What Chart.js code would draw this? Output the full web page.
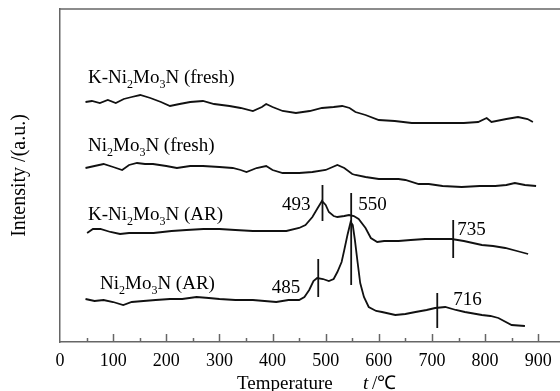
<!DOCTYPE html>
<html>
<head>
<meta charset="utf-8">
<script src="https://cdn.jsdelivr.net/npm/chart.js@4.4.0/dist/chart.umd.min.js"></script>
<style>
html, body { margin: 0; padding: 0; background: #fff; }
canvas { display: block; }
</style>
</head>
<body>
<canvas id="tpdChart" width="560" height="391"></canvas>
<script>
// temperatures in °C, intensities in arbitrary units (curves are offset vertically)
const kFreshT = [48, 60, 75, 90, 105, 120, 135, 151, 170, 190, 207, 225, 245, 269, 290, 319, 340, 363, 380, 388, 400, 419, 444, 470, 493, 515, 531, 545, 556, 575, 600, 630, 662, 700, 725, 760, 787, 803, 812, 840, 862, 880, 890];
const kFreshI = [240, 241, 239, 242, 239, 243, 245, 247, 244, 240, 236, 238, 240, 241, 238, 236, 234, 231, 235, 238, 235, 231, 229, 231, 234, 235, 236, 234, 230, 227, 222, 221, 219, 219, 219, 219, 220, 224, 220, 223, 225, 223, 220];

const niFreshT = [48, 65, 82, 100, 117, 130, 145, 160, 175, 200, 220, 245, 269, 300, 325, 340, 351, 370, 388, 400, 419, 450, 475, 500, 522, 535, 550, 556, 575, 600, 637, 650, 675, 694, 720, 756, 790, 819, 840, 856, 875, 896];
const niFreshI = [174, 176, 178, 175, 172, 177, 179, 178, 178, 176, 174, 176, 176, 175, 174, 172, 170, 174, 176, 172, 169, 169, 170, 172, 177, 174, 168, 167, 165, 163, 163, 162, 158, 158, 156, 155, 156, 156, 157, 159, 157, 156];

const kArT = [51, 62, 76, 95, 113, 130, 145, 176, 210, 238, 270, 300, 330, 363, 400, 426, 450, 462, 475, 485, 493, 500, 506, 515, 522, 535, 544, 553, 562, 575, 585, 597, 610, 637, 660, 687, 710, 737, 760, 794, 815, 838, 860, 881];
const kArI = [109, 113, 113, 110, 108, 109, 109, 109, 111, 112, 113, 113, 112, 111, 111, 111, 114, 117, 125, 134, 141, 137, 130, 126, 125, 126, 127, 126, 123, 114, 104, 100, 101, 101, 102, 103, 103, 103, 101, 97, 96, 94, 91, 88];

const niArT = [48, 65, 82, 100, 119, 135, 157, 180, 207, 230, 257, 280, 300, 330, 363, 385, 407, 430, 450, 460, 469, 477, 484, 495, 506, 515, 522, 530, 535, 541, 547, 551, 555, 560, 565, 572, 581, 595, 606, 631, 650, 669, 690, 706, 725, 745, 762, 794, 810, 825, 850, 875];
const niArI = [43, 41, 42, 40, 37, 40, 41, 42, 43, 43, 45, 44, 43, 42, 42, 41, 40, 42, 42, 45, 52, 61, 64, 63, 61, 63, 70, 80, 92, 107, 120, 117, 102, 80, 59, 45, 35, 31, 30, 27, 28, 30, 32, 34, 35, 32, 30, 27, 26, 24, 17, 16];

// peak markers: vertical bars
const markerT = [494, 548, 740, 486, 548, 710];
const markerLow = [121, 117, 84, 45, 57, 14];
const markerHigh = [157, 149, 122, 83, 117, 49];
const markerText = ['493', '550', '735', '485', '', '716'];

const seriesNames = ['K-Ni|2|Mo|3|N (fresh)', 'Ni|2|Mo|3|N (fresh)', 'K-Ni|2|Mo|3|N (AR)', 'Ni|2|Mo|3|N (AR)'];

const serif = "'Liberation Serif', 'Times New Roman', serif";

function pts(t, v) {
    return t.map((x, i) => ({ x: x, y: v[i] }));
}

const curves = [[kFreshT, kFreshI], [niFreshT, niFreshI], [kArT, kArI], [niArT, niArI]];
const datasets = curves.map(c => ({
    data: pts(c[0], c[1]),
    borderColor: '#111',
    borderWidth: 1.8
}));
markerT.forEach((t, i) => {
    datasets.push({
        data: [{ x: t, y: markerLow[i] }, { x: t, y: markerHigh[i] }],
        borderColor: '#111',
        borderWidth: 1.8
    });
});

// draws text like "K-Ni|2|Mo|3|N" with every second part as subscript
function drawFormula(ctx, str, x, y) {
    const parts = str.split('|');
    parts.forEach((p, i) => {
        if (i % 2 === 1) {
            ctx.font = '12px ' + serif;
            ctx.fillText(p, x, y + 5);
        } else {
            ctx.font = '19px ' + serif;
            ctx.fillText(p, x, y);
        }
        x += ctx.measureText(p).width;
    });
}

const extras = {
    id: 'extras',
    afterDraw(chart) {
        const ctx = chart.ctx;
        const a = chart.chartArea;
        const xs = chart.scales.x;
        const ys = chart.scales.y;
        ctx.save();

        // top frame line
        ctx.strokeStyle = '#666';
        ctx.lineWidth = 1.5;
        ctx.beginPath();
        ctx.moveTo(a.left, a.top);
        ctx.lineTo(a.right, a.top);
        ctx.stroke();

        // inward ticks on the x axis
        for (let v = 50; v <= 900; v += 50) {
            const px = Math.round(xs.getPixelForValue(v)) + 0.5;
            const len = v % 100 === 0 ? 8 : 4;
            ctx.beginPath();
            ctx.moveTo(px, a.bottom);
            ctx.lineTo(px, a.bottom - len);
            ctx.stroke();
        }

        ctx.fillStyle = '#000';
        ctx.textBaseline = 'alphabetic';
        ctx.textAlign = 'left';

        // curve names
        const namePos = [[88, 83], [88, 151], [88, 220], [100, 289]];
        seriesNames.forEach((n, i) => drawFormula(ctx, n, namePos[i][0], namePos[i][1]));

        // peak labels, offset from the top of each marker bar
        const labOff = [[-12, 25, 'right'], [7, 17, 'left'], [4, 15, 'left'], [-18, 34, 'right'], [0, 0, 'left'], [16, 12, 'left']];
        ctx.font = '19px ' + serif;
        markerText.forEach((t, i) => {
            if (!t) return;
            ctx.textAlign = labOff[i][2];
            const px = xs.getPixelForValue(markerT[i]) + labOff[i][0];
            const py = ys.getPixelForValue(markerHigh[i]) + labOff[i][1];
            ctx.fillText(t, px, py);
        });

        // x axis title
        ctx.textAlign = 'left';
        ctx.font = '19px ' + serif;
        ctx.fillText('Temperature', 237, 389);
        ctx.font = 'italic 19px ' + serif;
        ctx.fillText('t', 363, 389);
        ctx.font = '19px ' + serif;
        ctx.fillText('/℃', 372, 389);
        ctx.restore();
    }
};

new Chart(document.getElementById('tpdChart').getContext('2d'), {
    type: 'line',
    data: { datasets: datasets },
    options: {
        responsive: false,
        animation: false,
        layout: { padding: { top: 9, right: 0, left: 0, bottom: 0 } },
        plugins: {
            legend: { display: false },
            tooltip: { enabled: false }
        },
        elements: {
            point: { radius: 0 },
            line: { tension: 0 }
        },
        scales: {
            x: {
                type: 'linear',
                min: 0,
                max: 941,
                grid: { display: false, drawTicks: false },
                border: { color: '#666', width: 1.5 },
                ticks: {
                    stepSize: 100,
                    includeBounds: false,
                    autoSkip: false,
                    maxRotation: 0,
                    padding: 8,
                    color: '#000',
                    font: { family: serif, size: 18 }
                },
                afterFit: s => { s.height = 49; }
            },
            y: {
                type: 'linear',
                min: 0,
                max: 333,
                grid: { display: false, drawTicks: false },
                border: { color: '#666', width: 1.5 },
                ticks: { display: false },
                title: {
                    display: true,
                    text: 'Intensity /(a.u.)',
                    color: '#000',
                    font: { family: serif, size: 20 },
                    padding: { top: 8, bottom: 0 }
                },
                afterFit: s => { s.width = 60; }
            }
        }
    },
    plugins: [extras]
});
</script>
</body>
</html>
